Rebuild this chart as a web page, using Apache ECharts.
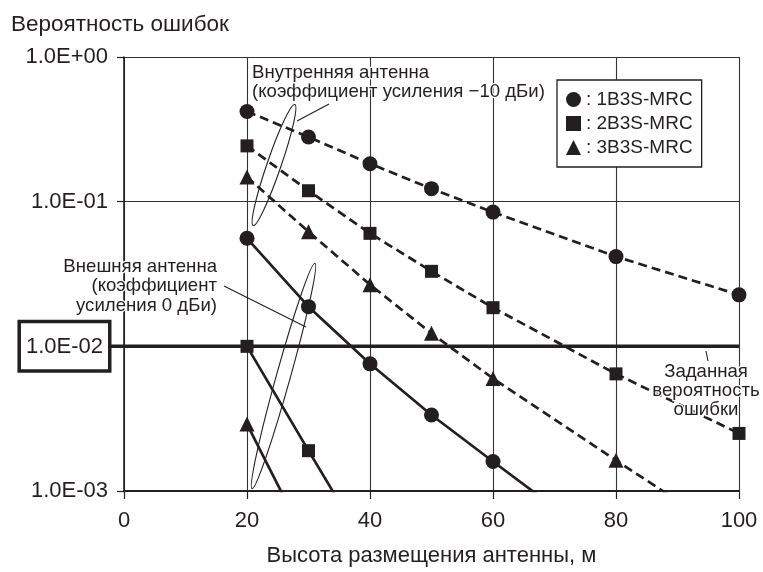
<!DOCTYPE html>
<html>
<head>
<meta charset="utf-8">
<script src="https://cdn.jsdelivr.net/npm/echarts@6/dist/echarts.min.js"></script>
<style>
html,body{margin:0;padding:0;background:#fff;}
#chart{width:763px;height:572px;}
</style>
</head>
<body>
<div id="chart"></div>
<script>
// ---- data ----
const xTicks = [0, 20, 40, 60, 80, 100];
const yTickLabels = { '0': '1.0E+00', '-1': '1.0E-01', '-2': '1.0E-02', '-3': '1.0E-03' };
const seriesNames = ['1B3S-MRC', '2B3S-MRC', '3B3S-MRC'];
// Inner antenna (gain -10 dBi), dashed
const innerX = [20, 30, 40, 50, 60, 80, 100];
const inner1B = [0.42, 0.28, 0.183, 0.123, 0.0847, 0.0417, 0.0227];
const inner2B = [0.243, 0.119, 0.0604, 0.033, 0.0185, 0.00645, 0.0025];
const inner3B = [0.148, 0.062, 0.0267, 0.0123, 0.006, 0.00163, 0.00045];
// Outer antenna (gain 0 dBi), solid
const outer1X = [20, 30, 40, 50, 60, 80];
const outer1B = [0.0558, 0.0188, 0.00757, 0.00335, 0.0016, 0.00037];
const outer2X = [20, 30, 40];
const outer2B = [0.01, 0.0019, 0.00037];
const outer3X = [20, 30];
const outer3B = [0.0029, 0.00042];
const requiredBER = 0.01;

const FONT = "'Liberation Sans', Arial, Helvetica, sans-serif";
const INK = '#231f20';
const symbols = ['circle', 'rect', 'triangle'];
const symSizes = [15, 13, 15];

function pairs(xs, ys) { return xs.map((x, i) => [x, ys[i]]); }

function mkSeries(name, idx, data, dashed) {
  return {
    name: name,
    type: 'line',
    data: data,
    symbol: symbols[idx],
    symbolSize: symSizes[idx],
    clip: true,
    z: 5,
    itemStyle: { color: INK },
    lineStyle: { color: INK, width: 2.7, type: dashed ? [9, 5] : 'solid' },
    emphasis: { disabled: true },
    animation: false
  };
}

const chart = echarts.init(document.getElementById('chart'), null, { renderer: 'canvas' });

const option = {
  animation: false,
  backgroundColor: '#fff',
  title: {
    text: 'Вероятность ошибок',
    left: 6, top: 8,
    textStyle: { fontFamily: FONT, fontSize: 22.5, fontWeight: 'normal', color: INK }
  },
  grid: { left: 124, right: 24, top: 57, bottom: 76, containLabel: false },
  legend: {
    orient: 'vertical',
    left: 557, top: 80,
    padding: [10, 9, 10, 9],
    itemGap: 5,
    itemWidth: 15, itemHeight: 15,
    itemTextGap: 5,
    backgroundColor: '#fff',
    borderColor: INK, borderWidth: 1.3,
    selectedMode: false,
    formatter: ': {name}',
    textStyle: { fontFamily: FONT, fontSize: 19, color: INK, lineHeight: 19 },
    data: seriesNames.map((n, i) => ({ name: n, icon: symbols[i] }))
  },
  xAxis: {
    type: 'value', min: xTicks[0], max: xTicks[xTicks.length - 1], interval: 20,
    name: 'Высота размещения антенны, м',
    nameLocation: 'middle', nameGap: 54,
    nameTextStyle: { fontFamily: FONT, fontSize: 22, color: INK },
    axisLine: { show: true, onZero: false, lineStyle: { color: INK, width: 2 } },
    axisTick: { show: true, inside: false, length: 8, lineStyle: { color: INK, width: 1.2 } },
    axisLabel: { margin: 19, fontFamily: FONT, fontSize: 22, color: INK },
    splitLine: { show: true, lineStyle: { color: '#333', width: 1.1 } }
  },
  yAxis: {
    type: 'log', logBase: 10, min: 0.001, max: 1,
    axisLine: { show: true, onZero: false, lineStyle: { color: INK, width: 1.6 } },
    axisTick: { show: true, inside: false, length: 7, lineStyle: { color: INK, width: 1.2 } },
    minorTick: { show: false },
    axisLabel: {
      margin: 16,
      fontFamily: FONT, fontSize: 22, color: INK,
      formatter: function (v) {
        const e = Math.round(Math.log10(v));
        const t = yTickLabels[String(e)] || '';
        if (e === -2) return '{box|' + t + '}';
        return t;
      },
      rich: {
        box: {
          fontFamily: FONT, fontSize: 22, color: INK,
          borderColor: INK, borderWidth: 3.5,
          padding: [13, 5, 11, 5],
          backgroundColor: '#fff'
        }
      }
    },
    splitLine: { show: true, lineStyle: { color: '#333', width: 1.1 } }
  },
  series: [
    mkSeries(seriesNames[0], 0, pairs(innerX, inner1B), true),
    mkSeries(seriesNames[1], 1, pairs(innerX, inner2B), true),
    mkSeries(seriesNames[2], 2, pairs(innerX, inner3B), true),
    mkSeries(seriesNames[0], 0, pairs(outer1X, outer1B), false),
    mkSeries(seriesNames[1], 1, pairs(outer2X, outer2B), false),
    mkSeries(seriesNames[2], 2, pairs(outer3X, outer3B), false)
  ]
};
chart.setOption(option);

// Required error probability line (thick), drawn through the chart's own scales
const pLeft = chart.convertToPixel({ gridIndex: 0 }, [xTicks[0], requiredBER]);
const pRight = chart.convertToPixel({ gridIndex: 0 }, [xTicks[xTicks.length - 1], requiredBER]);

function txt(x, y, text, align) {
  return {
    type: 'text', x: x, y: y, z: 20,
    style: {
      text: text, fontFamily: FONT, fontSize: 18.6, fill: INK,
      align: align || 'left', verticalAlign: 'middle',
      stroke: '#fff', lineWidth: 2.5
    }
  };
}
function line(x1, y1, x2, y2) {
  return {
    type: 'line', z: 15,
    shape: { x1: x1, y1: y1, x2: x2, y2: y2 },
    style: { stroke: INK, lineWidth: 1.1 }
  };
}
function ellipse(cx, cy, rx, ry, deg) {
  return {
    type: 'ellipse', x: cx, y: cy, rotation: deg * Math.PI / 180, z: 15,
    shape: { cx: 0, cy: 0, rx: rx, ry: ry },
    style: { fill: null, stroke: INK, lineWidth: 1.1 }
  };
}

chart.setOption({
  graphic: [
    {
      type: 'line', z: 8,
      shape: { x1: pLeft[0] - 14, y1: pLeft[1], x2: pRight[0], y2: pRight[1] },
      style: { stroke: INK, lineWidth: 3.5 }
    },
    // inner antenna annotation
    ellipse(274, 165, 7, 64, -19),
    line(297, 121, 329, 104),
    txt(252, 73, 'Внутренняя антенна'),
    txt(252, 92, '(коэффициент усиления −10 дБи)'),
    // outer antenna annotation
    ellipse(283.5, 376, 7, 117, -15.6),
    line(224, 286, 306, 327),
    txt(217, 267, 'Внешняя антенна', 'right'),
    txt(217, 286, '(коэффициент', 'right'),
    txt(217, 306, 'усиления 0 дБи)', 'right'),
    // required probability annotation
    line(706, 351, 708, 361),
    txt(706, 372, 'Заданная', 'center'),
    txt(706, 391, 'вероятность', 'center'),
    txt(706, 410, 'ошибки', 'center')
  ]
});
</script>
</body>
</html>
